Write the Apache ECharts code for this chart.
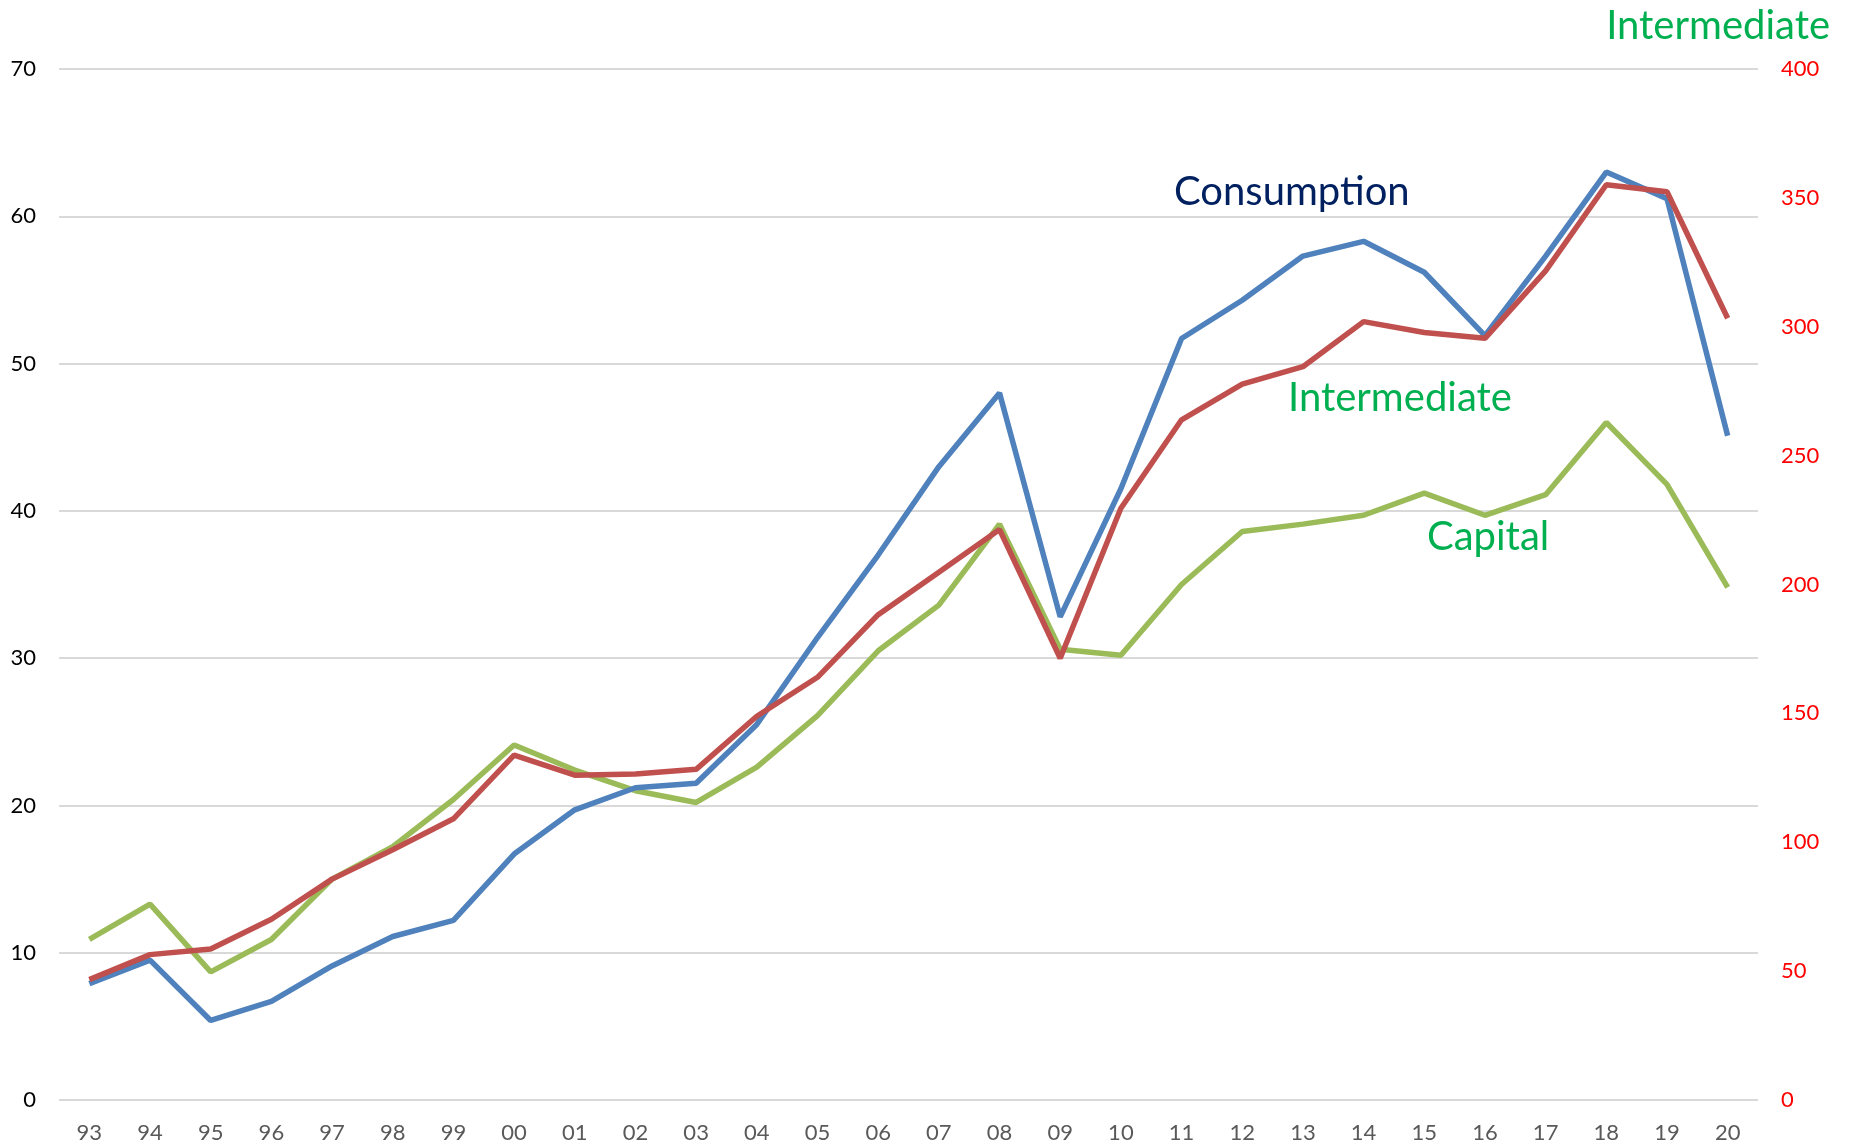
<!DOCTYPE html>
<html>
<head>
<meta charset="utf-8">
<script src="https://cdn.jsdelivr.net/npm/echarts@6/dist/echarts.min.js"></script>
<style>
  html, body { margin: 0; padding: 0; background: #fff; }
  #main { width: 1852px; height: 1145px; }
</style>
</head>
<body>
<div id="main"></div>
<script>
// years (two-digit)
var years = ['93','94','95','96','97','98','99','00','01','02','03','04','05','06',
             '07','08','09','10','11','12','13','14','15','16','17','18','19','20'];
// left axis
var consumption = [7.9, 9.5, 5.4, 6.7, 9.1, 11.1, 12.2, 16.7, 19.7, 21.2, 21.5, 25.5, 31.4, 37.0,
                   43.0, 48.0, 32.8, 41.5, 51.7, 54.3, 57.3, 58.3, 56.2, 51.9, 57.3, 63.0, 61.2, 45.1];
var capital = [10.9, 13.3, 8.7, 10.9, 15.0, 17.2, 20.4, 24.1, 22.4, 21.0, 20.2, 22.6, 26.1, 30.5,
               33.6, 39.1, 30.6, 30.2, 35.0, 38.6, 39.1, 39.7, 41.2, 39.7, 41.1, 46.0, 41.8, 34.8];
// right axis
var intermediate = [46.7, 56.4, 58.6, 70.1, 85.7, 97.1, 109.1, 133.8, 126.0, 126.5, 128.3, 148.9, 164.0, 188.3,
                    204.8, 221.3, 171.4, 229.6, 263.9, 277.7, 284.5, 302.0, 297.8, 295.5, 321.7, 355.1, 352.4, 303.3];

var font = 'Lato, "Open Sans", sans-serif';
var chart = echarts.init(document.getElementById('main'));

chart.setOption({
  animation: false,
  backgroundColor: '#fff',
  grid: { left: 59, right: 94, top: 69, bottom: 45, containLabel: false },
  xAxis: {
    type: 'category',
    data: years,
    boundaryGap: true,
    axisLine: { show: false },
    axisTick: { show: false },
    axisLabel: { color: '#595959', fontSize: 22, fontFamily: font, margin: 22 }
  },
  yAxis: [
    {
      type: 'value', min: 0, max: 70, interval: 10,
      axisLine: { show: false }, axisTick: { show: false },
      axisLabel: { color: '#000', fontSize: 22, fontFamily: font, margin: 23 },
      splitLine: { lineStyle: { color: '#d9d9d9', width: 2 } }
    },
    {
      type: 'value', min: 0, max: 400, interval: 50,
      axisLine: { show: false }, axisTick: { show: false },
      axisLabel: { color: '#ff0000', fontSize: 22, fontFamily: font, margin: 23 },
      splitLine: { show: false }
    }
  ],
  series: [
    {
      name: 'Consumption', type: 'line', yAxisIndex: 0, data: consumption,
      showSymbol: false, lineStyle: { color: '#4f81bd', width: 5.5 }, z: 3
    },
    {
      name: 'Capital', type: 'line', yAxisIndex: 0, data: capital,
      showSymbol: false, lineStyle: { color: '#9bbb59', width: 5.5 }, z: 2
    },
    {
      name: 'Intermediate', type: 'line', yAxisIndex: 1, data: intermediate,
      showSymbol: false, lineStyle: { color: '#c0504d', width: 5.5 }, z: 4
    }
  ],
  graphic: [
    { type: 'text', left: 1174, top: 172,
      style: { text: 'Consumption', fill: '#002060', font: '40px ' + font } },
    { type: 'text', left: 1288, top: 378,
      style: { text: 'Intermediate', fill: '#00b050', font: '40px ' + font } },
    { type: 'text', left: 1427, top: 517,
      style: { text: 'Capital', fill: '#00b050', font: '40px ' + font } },
    { type: 'text', right: 22, top: 6,
      style: { text: 'Intermediate', fill: '#00b050', font: '40px ' + font } }
  ]
});
</script>
</body>
</html>
